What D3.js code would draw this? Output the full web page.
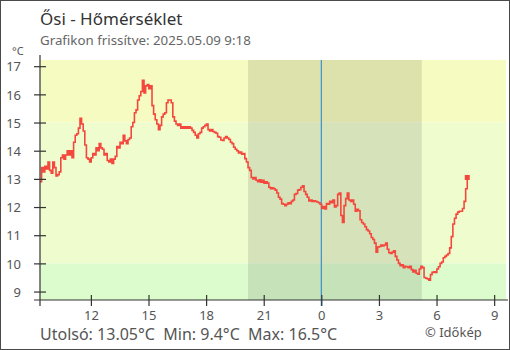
<!DOCTYPE html>
<html>
<head>
<meta charset="utf-8">
<script src="https://cdn.jsdelivr.net/npm/d3@7"></script>
<style>
  html, body { margin: 0; padding: 0; background: #fff; }
  svg { display: block; font-family: "Noto Sans", "Open Sans", sans-serif; }
</style>
</head>
<body>
<svg id="chart" width="510" height="350"></svg>
<script>
// Station and summary texts
const stationTitle = "Ősi - Hőmérséklet";
const updatedText = "Grafikon frissítve: 2025.05.09 9:18";
const lastValue = 13.05, minValue = 9.4, maxValue = 16.5;

// Time window of the chart
const windowStart = "2025-05-08T09:21";
const windowEnd = "2025-05-09T09:37";
const midnight = "2025-05-09T00:00";
const sunset = "2025-05-08T20:11";
const sunrise = "2025-05-09T05:14";

// Temperature readings, one every 5 minutes from seriesStart
const seriesStart = "2025-05-08T09:21";
const stepMinutes = 5;
const temps = [
  12.9, 13.4, 13.25, 13.45, 13.35, 13.6, 13.3, 13.2, 13.6, 13.4,
  13.1, 13.15, 13.25, 13.75, 13.85, 13.7, 13.85, 14.0, 13.85, 14.0,
  13.75, 14.3, 14.55, 14.6, 14.8, 15.15, 14.95, 14.7, 14.2, 13.75,
  13.7, 13.6, 13.75, 13.9, 13.85, 14.1, 14.0, 14.25, 14.1, 14.05,
  13.85, 13.9, 13.65, 13.6, 13.7, 13.55, 13.7, 13.8, 14.15, 14.1,
  14.3, 14.25, 14.55, 14.35, 14.25, 14.4, 14.45, 14.85, 15.0, 15.35,
  15.45, 15.8, 15.95, 16.1, 16.5, 16.05, 16.3, 16.35, 16.2, 16.3,
  15.6, 15.3, 15.1, 14.95, 14.75, 14.9, 15.2, 15.3, 15.35, 15.7,
  15.8, 15.8, 15.7, 15.2, 15.05, 14.95, 14.9, 14.95, 14.8, 14.85,
  14.8, 14.85, 14.8, 14.85, 14.8, 14.72, 14.65, 14.55, 14.45, 14.6,
  14.65, 14.8, 14.85, 14.9, 14.95, 14.75, 14.7, 14.75, 14.68, 14.65,
  14.62, 14.5, 14.48, 14.38, 14.36, 14.45, 14.5, 14.45, 14.4, 14.3,
  14.25, 14.12, 14.05, 14.0, 13.92, 13.95, 13.88, 13.9, 13.72, 13.6,
  13.4, 13.3, 13.05, 13.0, 13.05, 12.95, 12.9, 12.97, 12.88, 12.95,
  12.85, 12.9, 12.85, 12.7, 12.65, 12.68, 12.65, 12.6, 12.5, 12.35,
  12.28, 12.12, 12.1, 12.05, 12.1, 12.15, 12.12, 12.2, 12.25, 12.45,
  12.48, 12.6, 12.62, 12.7, 12.75, 12.55, 12.45, 12.35, 12.22, 12.25,
  12.2, 12.22, 12.2, 12.18, 12.15, 12.1, 11.95, 12.02, 11.93, 12.12,
  12.1, 12.2, 12.15, 12.25, 12.0, 12.05, 12.45, 12.5, 11.7, 11.45,
  12.05, 12.3, 12.5, 12.25, 12.2, 12.25, 12.1, 11.85, 11.92, 11.87,
  11.55, 11.45, 11.4, 11.3, 11.2, 11.15, 11.05, 10.92, 10.85, 10.72,
  10.4, 10.58, 10.6, 10.65, 10.62, 10.65, 10.72, 10.5, 10.38, 10.35,
  10.4, 10.45, 10.25, 10.12, 10.0, 9.92, 9.95, 9.85, 9.9, 9.88,
  9.85, 9.9, 9.78, 9.7, 9.75, 9.65, 9.62, 9.8, 9.9, 9.85,
  9.5, 9.47, 9.45, 9.4, 9.6, 9.68, 9.7, 9.68, 9.8, 9.88,
  10.0, 10.05, 10.2, 10.25, 10.3, 10.35, 10.55, 10.95, 11.4, 11.6,
  11.75, 11.82, 11.85, 11.85, 11.95, 12.2, 12.65, 13.05
];

// Axis ticks
const yTicks = [9, 10, 11, 12, 13, 14, 15, 16, 17];
const xTickTimes = ["2025-05-08T12:00", "2025-05-08T15:00", "2025-05-08T18:00", "2025-05-08T21:00",
                    "2025-05-09T00:00", "2025-05-09T03:00", "2025-05-09T06:00", "2025-05-09T09:00"];
const xTickLabels = ["12", "15", "18", "21", "0", "3", "6", "9"];

// Temperature bands behind the plot
const bands = [
  { lo: 15, hi: 17.22, color: "#f6fcc1" },
  { lo: 10, hi: 15, color: "#effcce" },
  { lo: 8.7, hi: 10, color: "#dcfccd" }
];

const parse = d3.isoParse;
const svg = d3.select("#chart");
const W = 510, H = 350;
const plotLeft = 40, plotRight = 506, plotTop = 60, plotBottom = 300;

const x = d3.scaleTime().domain([parse(windowStart), parse(windowEnd)]).range([plotLeft, plotRight]);
const y = d3.scaleLinear().domain([8.7, 17.22]).range([plotBottom, plotTop]);

const t0 = parse(seriesStart).getTime();
const data = temps.map((v, i) => ({ t: new Date(t0 + i * stepMinutes * 60000), v }));

// Frame
svg.append("rect").attr("x", 0.5).attr("y", 0.5).attr("width", W - 1).attr("height", H - 1)
  .attr("fill", "#fff").attr("stroke", "#4a4a4a").attr("stroke-width", 1);

// Bands
svg.append("g").selectAll("rect").data(bands).join("rect")
  .attr("x", plotLeft).attr("width", plotRight - plotLeft)
  .attr("y", d => y(d.hi)).attr("height", d => y(d.lo) - y(d.hi))
  .attr("fill", d => d.color);

// Night shading
svg.append("rect")
  .attr("x", x(parse(sunset))).attr("width", x(parse(sunrise)) - x(parse(sunset)))
  .attr("y", plotTop).attr("height", plotBottom - plotTop)
  .attr("fill", "#000").attr("fill-opacity", 0.1);

// Midnight marker
svg.append("line")
  .attr("x1", x(parse(midnight))).attr("x2", x(parse(midnight)))
  .attr("y1", plotTop).attr("y2", plotBottom + 6)
  .attr("stroke", "#3a8fd0").attr("stroke-width", 1.2);

// Temperature line
const line = d3.line().x(d => x(d.t)).y(d => y(d.v)).curve(d3.curveStepAfter);
svg.append("path").datum(data)
  .attr("d", line)
  .attr("fill", "none").attr("stroke", "#f4473d").attr("stroke-width", 1.6)
  .attr("stroke-linejoin", "miter");

const lastPt = data[data.length - 1];
svg.append("rect")
  .attr("x", x(lastPt.t) - 2.5).attr("y", y(lastPt.v) - 2.5)
  .attr("width", 5).attr("height", 5).attr("fill", "#f4473d");

// Y axis
const yAxis = d3.axisLeft(y).tickValues(yTicks).tickFormat(d3.format("d")).tickSize(6);
const gy = svg.append("g").attr("transform", `translate(${plotLeft},0)`).call(yAxis);
gy.select(".domain").remove();
gy.selectAll(".tick line").attr("x1", 6).attr("x2", -6).attr("stroke", "#333").attr("stroke-width", 1.2);
gy.selectAll(".tick text").attr("x", -19).attr("dy", "0.36em")
  .attr("fill", "#555").style("font-size", "13px").style("font-family", "Noto Sans, sans-serif");
svg.append("line").attr("x1", plotLeft).attr("x2", plotLeft).attr("y1", 55).attr("y2", 306)
  .attr("stroke", "#333").attr("stroke-width", 1.2);

// X axis
const xAxis = d3.axisBottom(x).tickValues(xTickTimes.map(parse))
  .tickFormat((d, i) => xTickLabels[i]).tickSize(6);
const gx = svg.append("g").attr("transform", `translate(0,${plotBottom})`).call(xAxis);
gx.select(".domain").remove();
gx.selectAll(".tick line").attr("y1", -5).attr("y2", 6).attr("stroke", "#333").attr("stroke-width", 1.2);
gx.selectAll(".tick text").attr("y", 20).attr("dy", "0")
  .attr("fill", "#555").style("font-size", "13px").style("font-family", "Noto Sans, sans-serif");
svg.append("line").attr("x1", 34).attr("x2", 508).attr("y1", plotBottom).attr("y2", plotBottom)
  .attr("stroke", "#333").attr("stroke-width", 1.2);

// Texts
svg.append("text").attr("x", 40).attr("y", 25).text(stationTitle)
  .attr("fill", "#333").style("font-size", "17px");
svg.append("text").attr("x", 40).attr("y", 45).text(updatedText)
  .attr("fill", "#666").style("font-size", "13.3px");
svg.append("text").attr("x", 12).attr("y", 55).text("°C")
  .attr("fill", "#555").style("font-size", "11px");
const fmt = v => String(v);
svg.append("text").attr("x", 40).attr("y", 340)
  .attr("xml:space", "preserve")
  .text(`Utolsó: ${fmt(lastValue)}°C  Min: ${fmt(minValue)}°C  Max: ${fmt(maxValue)}°C`)
  .attr("fill", "#555").style("font-size", "16px").style("white-space", "pre");
svg.append("text").attr("x", 425).attr("y", 337).text("© Időkép")
  .attr("fill", "#555").style("font-size", "13px");
</script>
</body>
</html>
